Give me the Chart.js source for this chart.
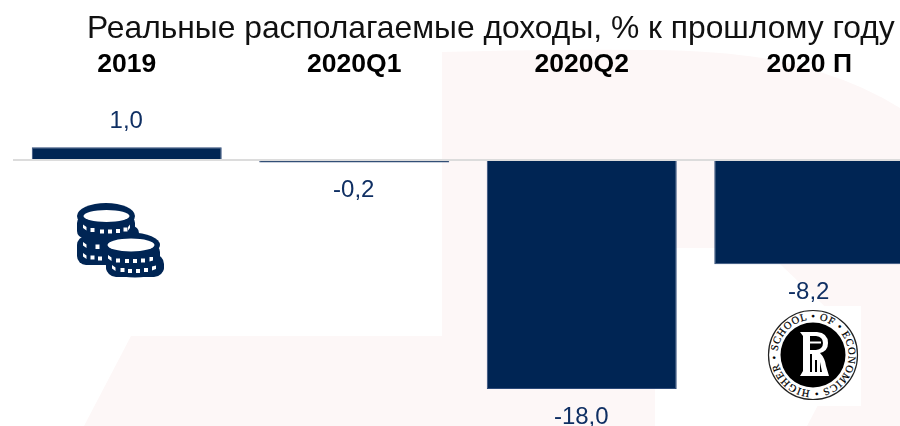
<!DOCTYPE html>
<html lang="ru">
<head>
<meta charset="utf-8">
<title>Реальные располагаемые доходы</title>
<script src="https://cdn.jsdelivr.net/npm/chart.js@4"></script>
<style>
    html, body { margin: 0; padding: 0; background: #fff; overflow: hidden; }
    #stage { position: relative; width: 900px; height: 426px; overflow: hidden; }
    #stage svg, #stage canvas, #title { position: absolute; left: 0; top: 0; }
    #title {
        left: 87px; top: 9px; white-space: nowrap; color: #111;
        font: 31.8px "Liberation Sans", Arial, sans-serif;
    }
</style>
</head>
<body>
<div id="stage">
    <!-- фон: бледный знак -->
    <svg width="900" height="426">
        <path fill="#fdf7f7" d="M442,52 Q560,49 653,50 Q760,51 820,72 Q865,86 900,108 L900,426 L807,426 L855,335 L763,248 L655,248 L655,426 L84,426 L131,336 L442,336 Z"/>
    </svg>
    <canvas id="chart" width="930" height="440"></canvas>
    <div id="title">Реальные располагаемые доходы, % к прошлому году</div>

    <!-- монеты -->
    <svg width="900" height="426">
        <g fill="#002554">
            <rect x="77" y="216" width="58" height="22" rx="7"/>
            <rect x="82" y="226" width="57" height="18" rx="7"/>
            <rect x="77" y="236" width="58" height="29" rx="9"/>
            <ellipse cx="106" cy="216" rx="29" ry="13"/>
            <rect x="106" y="254" width="58" height="23" rx="10"/>
            <rect x="102" y="245" width="58" height="21" rx="7"/>
            <ellipse cx="131" cy="245" rx="29" ry="12.5"/>
            <ellipse cx="135" cy="268" rx="29" ry="9.5"/>
        </g>
        <g fill="#fff">
            <ellipse cx="106.5" cy="216" rx="23" ry="6"/>
            <ellipse cx="131" cy="245" rx="23.5" ry="6.5"/>
            <path d="M83,224.5l3.5,2.5v3.5l-3.5,-2.5z M90.5,228h4v4h-4z M100,229.5h4v4h-4z M108,229.5h4v4h-4z M116,229h4v4h-4z M123.5,227.5h4v4h-4z M130,224.5l-2,2.5v3.5l2,-2.5z"/>
            <path d="M83,242l3.5,2.5v3.5l-3.5,-2.5z M95.5,244.5h4v4.5h-4z"/>
            <path d="M83,253l3.5,2.5v3.5l-3.5,-2.5z M90.5,255.5h4v4h-4z M98,256.5h4v4h-4z"/>
            <path d="M108,255l3.5,2.5v3.5l-3.5,-2.5z M116,258.5h4v4h-4z M125,259h4v4h-4z M133,259h4v4h-4z M141,258.5h4v4h-4z M149.5,257l3.5,0v3.5l-3.5,1z"/>
            <path d="M112,265l3.5,2.5v3.5l-3.5,-2.5z M120.5,268h4v4h-4z M128,269h4v4h-4z M136,269h4v4h-4z M144,268h4v4h-4z M152,266.5l4,-1v3.5l-4,1.5z"/>
        </g>
    </svg>

    <!-- эмблема -->
    <svg width="900" height="426">
        <rect x="768" y="306" width="93" height="100" fill="#fff"/>
        <circle cx="813" cy="355" r="44.5" fill="#fff" stroke="#222" stroke-width="1.2"/>
        <circle cx="813" cy="355" r="32.5" fill="#000"/>
        <path id="ring" fill="none" d="M813,390.5 A35.5,35.5 0 1 1 813,319.5 A35.5,35.5 0 1 1 813,390.5"/>
        <text font-family="Liberation Serif" font-size="10.5" fill="#000" stroke="#000" stroke-width="0.2" textLength="218">
            <textPath href="#ring" startOffset="3">HIGHER • SCHOOL • OF • ECONOMICS •</textPath>
        </text>
        <path fill="#fff" d="M800,332 H817 Q828,333 828,343 Q828,351 820,353 Q825,358 826,366 L829,376 H800 L803,371 V336 Z"/>
        <path fill="#000" d="M810,336 H816 Q823,337 823,343 Q823,349 816,350 H810 Z M810,354 H812 V372 H810 Z M815,360 H817 V372 H815 Z M820,362 L822,372 H820 Z"/>
        <path fill="#fff" d="M810,341.5 H821 V343.5 H810 Z"/>
    </svg>
</div>

<script>
const periods = ['2019', '2020Q1', '2020Q2', '2020 П'];
const incomeChange = [1.0, -0.2, -18.0, -8.2];

const navy = '#002554';
const labelColor = '#0f2f63';

// подписи значений над и под столбцами
const valueLabels = {
    id: 'valueLabels',
    afterDatasetsDraw(chart) {
        const ctx = chart.ctx;
        ctx.save();
        ctx.font = '24px "Liberation Sans", Arial, sans-serif';
        ctx.fillStyle = labelColor;
        ctx.textAlign = 'center';
        ctx.textBaseline = 'middle';
        chart.getDatasetMeta(0).data.forEach((bar, i) => {
            const value = incomeChange[i];
            const text = value.toFixed(1).replace('.', ',');
            ctx.fillText(text, bar.x - 0.5, value >= 0 ? bar.y - 26 : bar.y + 28);
        });
        ctx.restore();
    }
};

new Chart(document.getElementById('chart'), {
    type: 'bar',
    data: {
        labels: periods,
        datasets: [{
            data: incomeChange,
            backgroundColor: navy,
            borderColor: '#2d4a78',
            borderWidth: 1,
            categoryPercentage: 1,
            barPercentage: 0.835
        }]
    },
    options: {
        responsive: false,
        animation: false,
        layout: { padding: { left: 13.0, right: 7.0, top: 36.4, bottom: 12.9 } },
        plugins: { legend: { display: false }, tooltip: { enabled: false } },
        scales: {
            x: {
                position: 'top',
                afterFit: scale => { scale.height = 60; },
                grid: { display: false, drawTicks: false },
                border: { display: false },
                ticks: {
                    color: '#000',
                    padding: 16,
                    maxRotation: 0,
                    font: { family: '"Liberation Sans", Arial, sans-serif', size: 26.5, weight: 'bold' }
                }
            },
            y: {
                min: -21,
                max: 5,
                afterFit: scale => { scale.width = 0; },
                ticks: { display: false, stepSize: 1 },
                border: { display: false },
                grid: {
                    drawTicks: false,
                    lineWidth: 2,
                    color: c => (c.tick.value === 0 ? '#dcdcdc' : 'transparent')
                }
            }
        }
    },
    plugins: [valueLabels]
});
</script>
</body>
</html>
